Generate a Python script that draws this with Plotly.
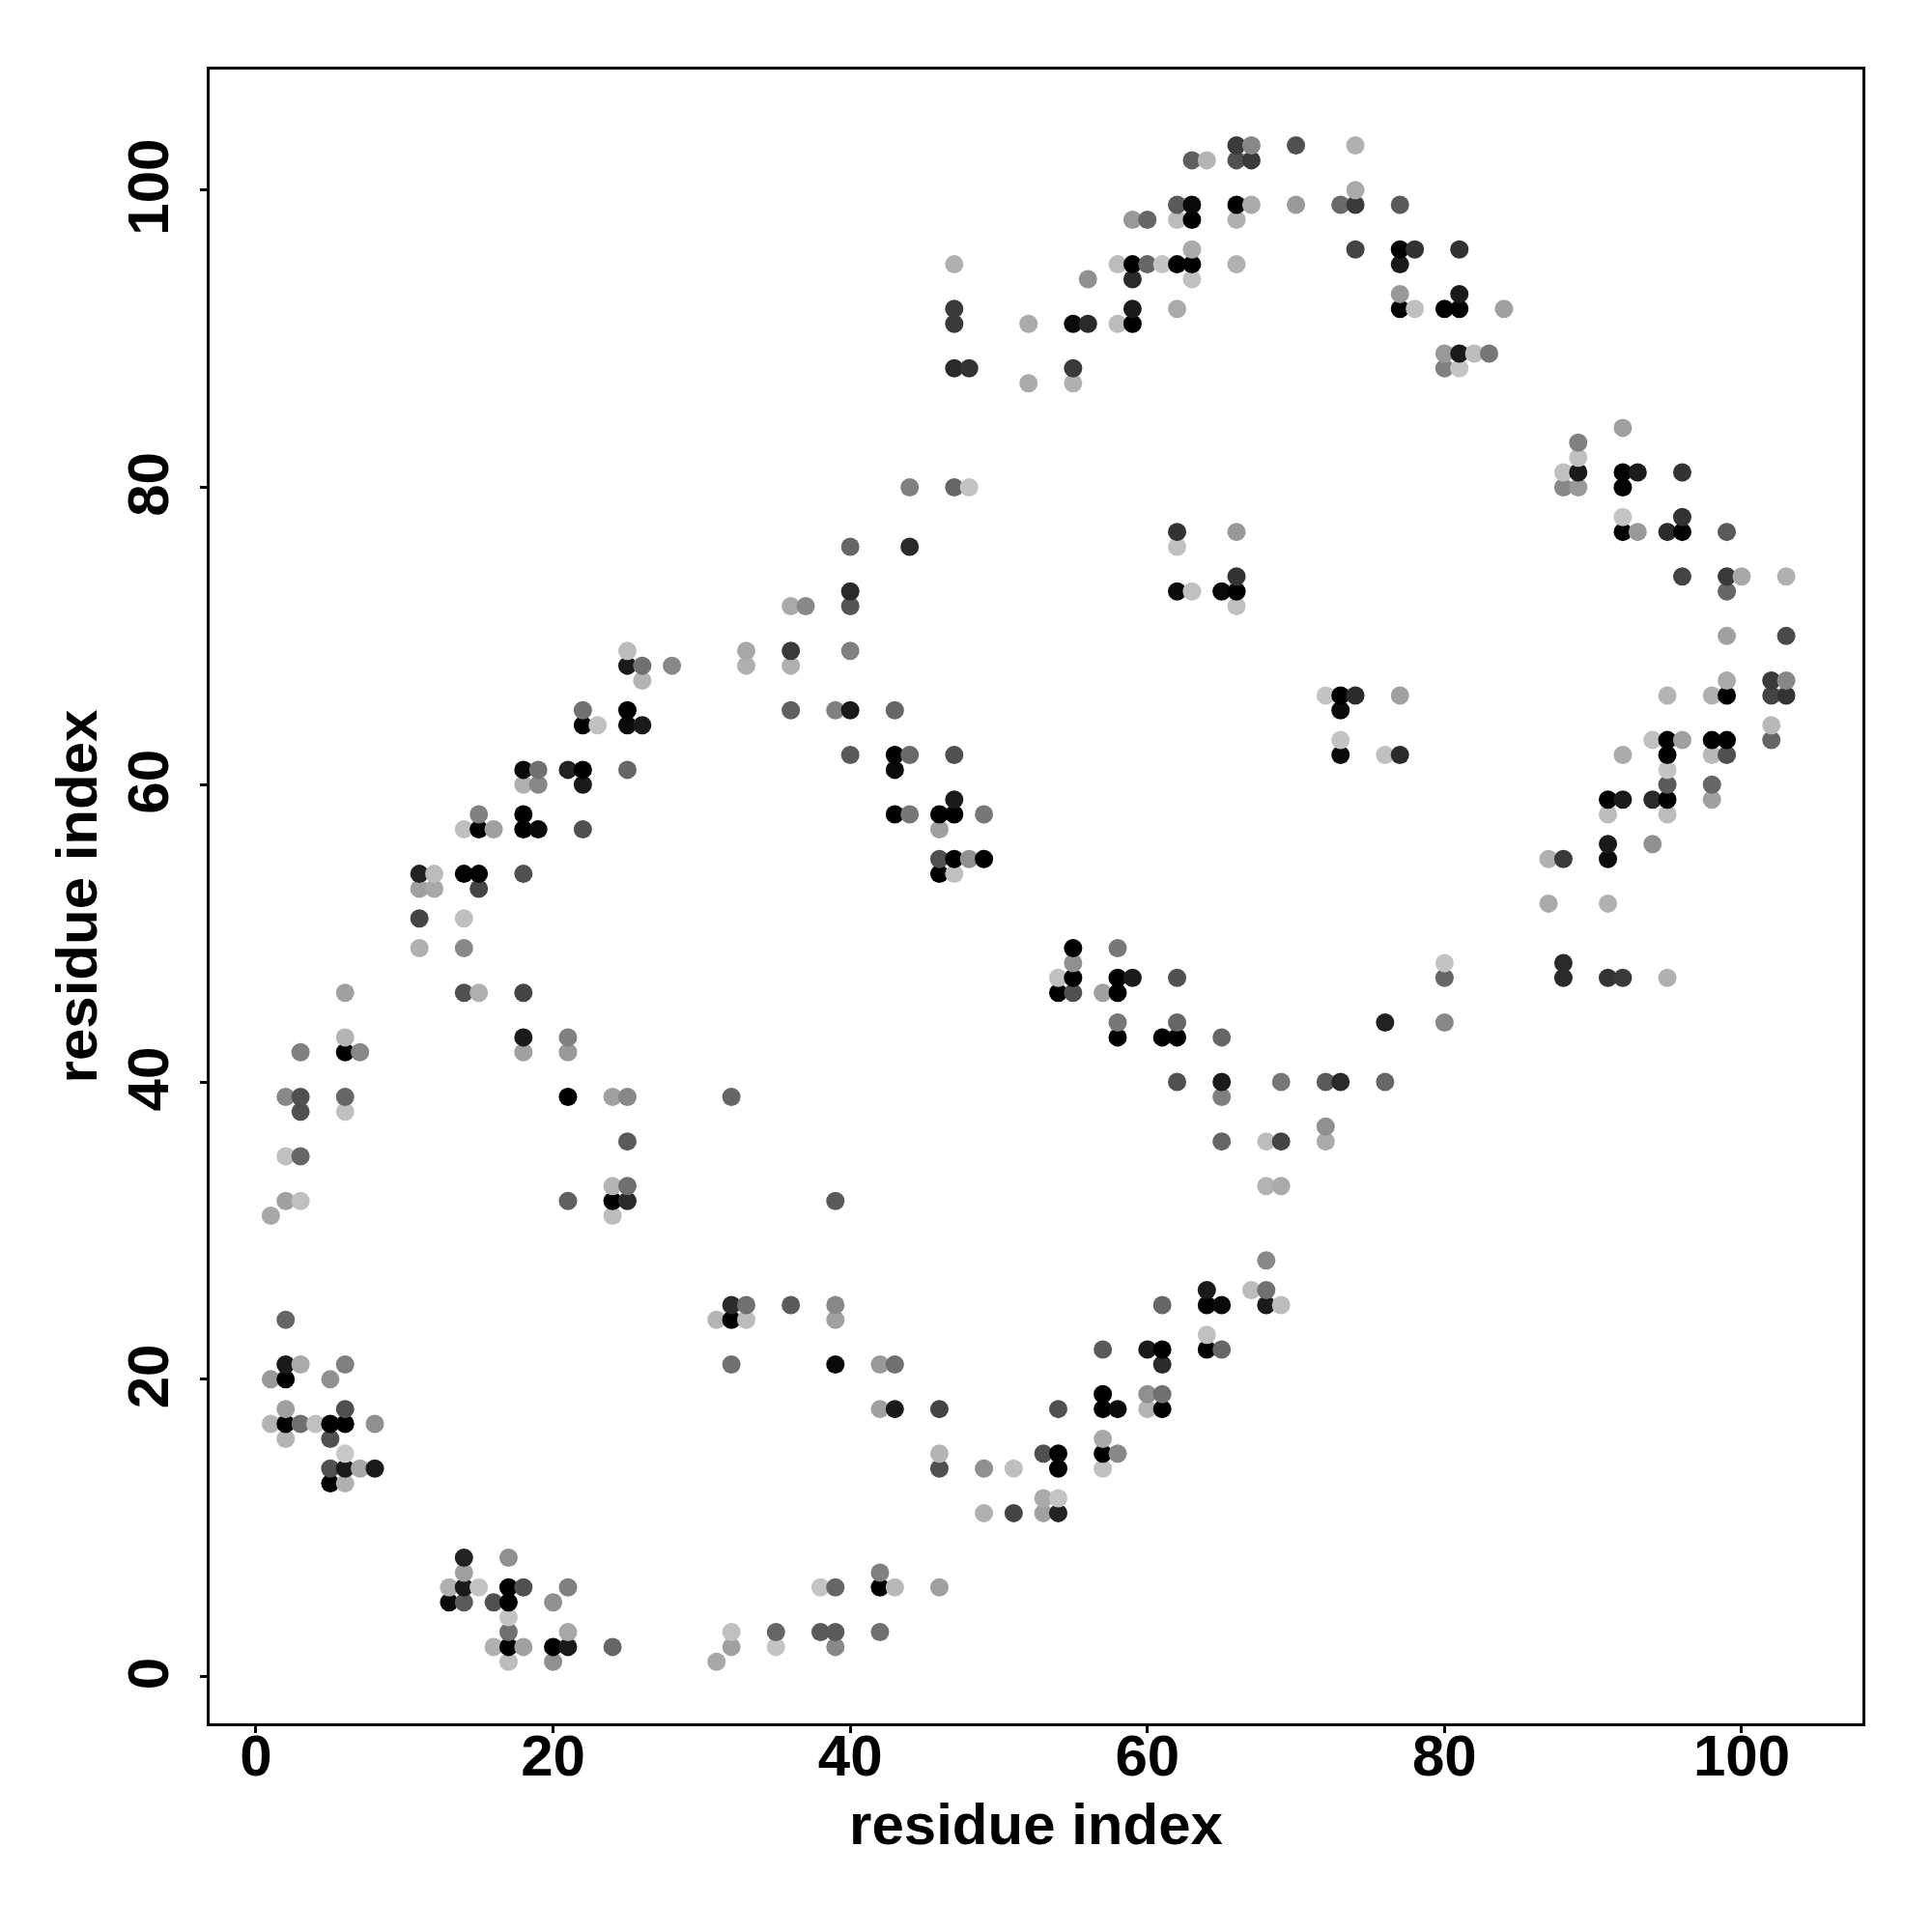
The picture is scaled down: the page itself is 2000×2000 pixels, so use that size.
import plotly.graph_objects as go

y_levels = [1,2,3,4,5,6,7,8,11,12,13,14,15,16,17,18,19,20,21,22,23,24,25,26,28,31,32,33,35,36,37,38,39,40,42,43,44,46,47,48,49,51,52,53,54,55,56,57,58,59,60,61,62,63,64,65,66,67,68,69,70,72,73,74,76,77,78,80,81,82,83,84,87,88,89,91,92,93,94,95,96,98,99,100,102,103]

x_rows = [
 [17,20,31],
 [16,17,18,20,21,24,32,35,39],
 [17,21,32,35,38,39,42],
 [17],
 [13,14,16,17,20],
 [13,14,15,17,18,21,38,39,42,43,46],
 [14,42],
 [14,17],
 [49,51,53,54],
 [53,54],
 [5,6],
 [5,6,7,8,46,49,51,54,57],
 [6,46,53,54,57,58],
 [2,5,57],
 [1,2,3,4,5,6,8],
 [2,6,42,43,46,54,57,58,60,61],
 [57,60,61],
 [1,2,5],
 [2,3,6,32,39,42,43,61],
 [57,60,61,64,65],
 [64],
 [2,31,32,33,39],
 [32,33,36,39,61,64,65,68,69],
 [64,67,68],
 [68],
 [1,24],
 [2,3,21,24,25,39],
 [24,25,68,69],
 [2,3],
 [25,65,68,69,72],
 [72],
 [3,6],
 [2,3,6,21,24,25,32,65],
 [62,65,69,72,73,76],
 [3,6,7,18,21],
 [6,18,21,58,61,62,65],
 [58,62,76,80],
 [6,14,15,18,54,55,57,58],
 [54,55,58,59,62,80,88,91,92,95],
 [55,80,88],
 [11,14,55,58],
 [11,14],
 [87,91],
 [11,12,15],
 [11,12,14,15,18,46,47],
 [46,47,48,49,87,88,91],
 [91,94],
 [14,15,16,18,19,22,46],
 [15,18,43,44,46,47,49,91,95],
 [47,91,92,94,95,98],
 [18,19,22,95,98],
 [18,19,21,22,25,43,95],
 [40,43,44,47,73,76,77,92,95,98,99],
 [73,94,95,96,98,99,102],
 [22,23,25,26,102],
 [22,25,36,39,40,43,73],
 [72,73,74,77,95,98,99,102,103],
 [26,99,102,103],
 [25,26,28,33,36],
 [25,33,36,40],
 [99,103],
 [36,37,40,66],
 [40,62,63,65,66,99],
 [66,96,99,100,103],
 [40,44,62],
 [62,66,92,93,95,96,99],
 [92,96],
 [44,47,48,88,89,92],
 [88,89,92,93,96],
 [89],
 [89],
 [92],
 [52,55],
 [47,48,55,80,81],
 [80,81,82,83],
 [47,52,55,56,58,59],
 [47,59,62,77,78,80,81,84],
 [77,81],
 [56,59,63],
 [47,58,59,60,61,62,63,66,77],
 [63,74,77,78,81],
 [59,60,62,63,66],
 [62,63,66,67,70,73,74,77],
 [74],
 [63,64,66,67],
 [66,67,70,74],
]

shade_rows = [
 [0xbc,0x90,0xa8],
 [0xb0,0x00,0xa0,0x00,0x1a,0x66,0xa0,0xc4,0x88],
 [0x70,0xa8,0xc0,0x66,0x5a,0x5a,0x70],
 [0xc4],
 [0x0a,0x5a,0x50,0x00,0x90],
 [0xb0,0x1a,0xc4,0x00,0x50,0x80,0xc4,0x66,0x00,0xb8,0xa0],
 [0xa0,0x80],
 [0x22,0x90],
 [0xb0,0x44,0xa0,0x22],
 [0xaa,0xc4],
 [0x00,0xb0],
 [0x50,0x1a,0xa8,0x1a,0x50,0x90,0xc0,0x00,0xc0],
 [0xc8,0xb4,0x50,0x00,0x00,0x88],
 [0xb4,0x50,0xa8],
 [0xb4,0x00,0x70,0xc0,0x00,0x00,0x90],
 [0xa0,0x50,0xa0,0x1a,0x44,0x50,0x00,0x0a,0xb4,0x00],
 [0x00,0x90,0x70],
 [0x99,0x00,0x90],
 [0x1a,0xaa,0x80,0x70,0x0a,0x99,0x70,0x2a],
 [0x5a,0x1a,0x00,0x00,0x66],
 [0xc0],
 [0x66,0xb4,0x00,0xbc,0xa0],
 [0x2a,0x70,0x5a,0x88,0x66,0x00,0x0a,0x1a,0xbc],
 [0x1a,0xbc,0x70],
 [0x88],
 [0xa8,0xbc],
 [0xa0,0xc0,0x60,0x00,0x2a,0x5a],
 [0xb4,0x70,0xb4,0xaa],
 [0xc0,0x66],
 [0x5a,0x66,0xbc,0x44,0xaa],
 [0x90],
 [0x50,0xc0],
 [0x88,0x50,0x66,0x00,0xa0,0x88,0x66,0x80],
 [0x50,0x1a,0x77,0x5a,0x2a,0x66],
 [0x80,0x00,0x88,0xa0,0x99],
 [0xb4,0x1a,0x80,0x00,0x00,0x00,0x66],
 [0x77,0x66,0x22,0x88],
 [0xa0,0x50,0xb0,0x44,0x00,0x50,0xa0,0x00],
 [0xc0,0x00,0x00,0x1a,0x50,0x66,0x2a,0x33,0x3a,0xb0],
 [0x90,0xc4,0x2a],
 [0xb0,0x88,0x00,0x77],
 [0x44,0xc0],
 [0xaa,0xb0],
 [0xa0,0xa8,0x44],
 [0x22,0xbc,0x00,0x00,0x50,0x00,0xc0],
 [0x50,0x00,0x90,0x00,0xb0,0x3a,0x0a],
 [0x1a,0x90],
 [0xc0,0x00,0xa0,0x00,0x0a,0x50,0xa0],
 [0x80,0x00,0x00,0x77,0x00,0x00,0x77,0xbc,0xbc],
 [0x1a,0x00,0x1a,0x2a,0x00,0xa0],
 [0xb0,0x88,0x1a,0x5a,0x66],
 [0x0a,0x70,0x22,0x00,0x66,0x0a,0xc4],
 [0x5a,0x00,0x6a,0x50,0x0a,0xc0,0x2a,0xaa,0x00,0xb8,0x50],
 [0xc4,0xc0,0x00,0xa0,0x00,0x00,0x66],
 [0x00,0xc0,0x0a,0x1a,0xb8],
 [0x70,0x00,0x60,0x80,0x1a,0x66,0x0a],
 [0xc4,0x00,0x2a,0xa0,0xb4,0xb0,0x00,0x44,0x33],
 [0xb4,0xaa,0x3a,0x88],
 [0x1a,0x70,0x88,0xb0,0xb0],
 [0xbc,0xa8,0x3a,0x80],
 [0xa0,0x4a],
 [0xaa,0x88,0x55,0xc0],
 [0x2a,0x0a,0xc0,0x0a,0x00,0x66],
 [0x33,0x44,0x3a,0xa8,0xb0],
 [0x66,0x2a,0xc0],
 [0x33,0x99,0x00,0x99,0x2a,0x00,0x5a],
 [0xc4,0x33],
 [0x80,0x66,0xc4,0x88,0x99,0x00],
 [0xc0,0x1a,0x00,0x1a,0x33],
 [0xc0],
 [0x80],
 [0xa0],
 [0xaa,0xb0],
 [0x2a,0x33,0x3a,0x80,0xc4],
 [0x99,0x1a,0xbc,0x77],
 [0x3a,0xaa,0x0a,0x2a,0xbc,0x00],
 [0x3a,0x1a,0xaa,0x00,0xc0,0x00,0x00,0xa0],
 [0x99,0x1a],
 [0x90,0x2a,0xc0],
 [0xb0,0xbc,0x00,0x66,0xc4,0x00,0x00,0xb0,0x1a],
 [0xaa,0x44,0x00,0x33,0x33],
 [0x99,0x66,0xbc,0x00,0xb0],
 [0x5a,0x0a,0x00,0xaa,0x99,0x6a,0x3a,0x5a],
 [0xaa],
 [0x5f,0xb4,0x50,0x3a],
 [0x3a,0x88,0x50,0xb0],
]

tick_values = [0, 20, 40, 60, 80, 100]
axis_label = "residue index"

xs, ys, colors = [], [], []
for lvl, xr, sr in zip(y_levels, x_rows, shade_rows, strict=True):
    for a, s in zip(xr, sr, strict=True):
        xs.append(a)
        ys.append(lvl)
        colors.append(f"rgb({s},{s},{s})")

fig = go.Figure(go.Scatter(x=xs, y=ys, mode="markers",
                           marker=dict(size=19, color=colors, line=dict(width=0))))

font_main = dict(family="Liberation Sans", size=60, color="black", weight="bold")
common = dict(showline=True, mirror=True, linecolor="black", linewidth=3,
              ticks="outside", ticklen=7, tickwidth=3, tickcolor="black",
              showgrid=False, zeroline=False, tickmode="array",
              tickvals=tick_values, ticktext=[str(t) for t in tick_values],
              tickfont=font_main)
fig.update_xaxes(range=[-3.12, 108.13], ticklabelstandoff=-28,
                 title=dict(text=axis_label, font=font_main, standoff=17), **common)
fig.update_yaxes(range=[-3.14, 108.1], tickangle=-90, ticklabelstandoff=9, ticklabelshift=6,
                 title=dict(text=axis_label, font=font_main, standoff=1), **common)
fig.update_layout(width=2000, height=2000, autosize=False, showlegend=False,
                  paper_bgcolor="white", plot_bgcolor="white",
                  margin=dict(l=209, r=80, t=64, b=224))
fig.write_html("out.html")
